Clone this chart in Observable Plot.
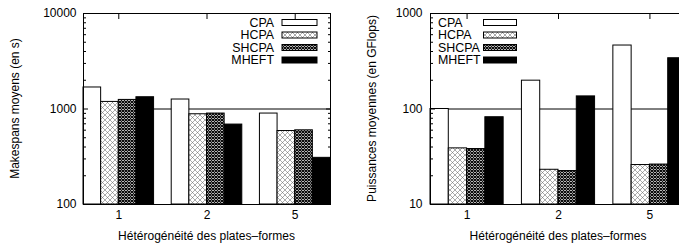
<!DOCTYPE html>
<html><head><meta charset="utf-8">
<script src="https://cdn.jsdelivr.net/npm/d3@7"></script>
<script src="https://cdn.jsdelivr.net/npm/@observablehq/plot@0.6"></script>
<style>
html,body{margin:0;padding:0;background:#fff;overflow:hidden;width:679px;height:249px;}
#left{position:absolute;left:0;top:0;width:340px;height:249px;}
#right{position:absolute;left:340px;top:0;width:339px;height:249px;overflow:hidden;}
#left svg,#right svg{max-width:none !important;display:block;}
</style></head><body>
<svg width="0" height="0" style="position:absolute">
<defs>
<pattern id="pHCPA" width="5" height="5" patternUnits="userSpaceOnUse">
 <rect width="5" height="5" fill="#fff"/>
 <path d="M0,0L5,5M5,0L0,5" stroke="#666" stroke-width="0.55"/>
</pattern>
<pattern id="pSHCPA" width="3" height="3" patternUnits="userSpaceOnUse">
 <rect width="3" height="3" fill="#fff"/>
 <path d="M0,0L3,3M3,0L0,3" stroke="#000" stroke-width="1.1"/>
</pattern>
</defs></svg>
<div id="left"></div><div id="right"></div>
<script>
const groups = ["1", "2", "5"];
const series = ["CPA", "HCPA", "SHCPA", "MHEFT"];

// Makespans moyens (en s)
const makespanCPA   = [1680, 1257, 896];
const makespanHCPA  = [1186, 881, 588];
const makespanSHCPA = [1245, 896, 598];
const makespanMHEFT = [1328, 687, 308];

// Puissances moyennes (en GFlops)
const powerCPA   = [100, 198, 462];
const powerHCPA  = [38.7, 23.1, 25.9];
const powerSHCPA = [38.1, 22.4, 26.2];
const powerMHEFT = [82, 135.5, 340];

const leftTicks = [100, 1000, 10000];
const rightTicks = [10, 100, 1000];

const xLabel = "Hétérogénéité des plates–formes";
const fills = {CPA: "white", HCPA: "url(#pHCPA)", SHCPA: "url(#pSHCPA)", MHEFT: "black"};

function makePanel(o) {
  const domain = [o.majors[0], o.majors[o.majors.length - 1]];
  const minors = [];
  for (let d = domain[0]; d < domain[1]; d *= 10) for (let k = 2; k <= 9; k++) minors.push(d * k);
  const top = 13, bottom = 204;
  const barMarks = series.map((s, j) => Plot.rect(o.values[s].map((v, i) => ({i, v})), {
    x1: d => d.i - 0.4 + 0.2 * j,
    x2: d => d.i - 0.2 + 0.2 * j,
    y1: () => domain[0],
    y2: d => d.v,
    fill: fills[s],
    stroke: "black",
    strokeWidth: 1
  }));
  const blank = () => "";
  const chart = Plot.plot({
    width: o.width, height: 249,
    marginLeft: o.marginLeft, marginRight: o.marginRight, marginTop: top, marginBottom: 249 - bottom,
    style: {fontSize: "12px", fontFamily: "'Liberation Sans', Arial, sans-serif", background: "white", color: "black"},
    x: {type: "linear", domain: [-0.4, 2.4]},
    y: {type: "log", domain},
    marks: [
      Plot.ruleY([o.ref], {stroke: "black", strokeWidth: 1}),
      ...barMarks,
      Plot.axisY(o.majors, {anchor: "left", tickSize: 0, tickPadding: o.tickPad, tickFormat: d => String(d), label: null}),
      Plot.axisY(o.majors, {anchor: "left", tickSize: 5, dx: 5, tickFormat: blank, label: null}),
      Plot.axisY(o.majors, {anchor: "right", tickSize: 5, dx: -5, tickFormat: blank, label: null}),
      Plot.axisY(minors, {anchor: "left", tickSize: 3, dx: 3, tickFormat: blank, label: null}),
      Plot.axisY(minors, {anchor: "right", tickSize: 3, dx: -3, tickFormat: blank, label: null}),
      Plot.axisX([0, 1, 2], {anchor: "bottom", tickSize: 0, tickPadding: 6, tickFormat: i => groups[i], label: null}),
      Plot.axisX([0, 1, 2], {anchor: "bottom", tickSize: 5, dy: -5, tickFormat: blank, label: null}),
      Plot.axisX([0, 1, 2], {anchor: "top", tickSize: 5, dy: 5, tickFormat: blank, label: null}),
      Plot.frame({stroke: "black", strokeWidth: 1})
    ]
  });
  const svg = d3.select(chart);
  svg.append("text")
    .attr("transform", `translate(${o.yLabelX},${(top + bottom) / 2}) rotate(-90)`)
    .attr("text-anchor", "middle").attr("dy", "0.35em").attr("fill", "black")
    .text(o.yLabel);
  const plotRight = o.width - o.marginRight;
  svg.append("text")
    .attr("x", (o.marginLeft + plotRight) / 2).attr("y", 240)
    .attr("text-anchor", "middle").attr("fill", "black")
    .text(xLabel);
  const baselines = [26.5, 39, 51.5, 64];
  const lg = svg.append("g").attr("font-size", "12.4px");
  series.forEach((s, j) => {
    lg.append("text").attr("x", o.legendTextX).attr("y", baselines[j])
      .attr("text-anchor", o.legendAnchor).attr("fill", "black").text(s);
    lg.append("rect").attr("x", o.swatchX).attr("y", baselines[j] - 7)
      .attr("width", o.swatchW).attr("height", 6)
      .attr("fill", fills[s]).attr("stroke", "black").attr("stroke-width", 1);
  });
  document.getElementById(o.el).appendChild(chart);
}

makePanel({
  el: "left", width: 340, marginLeft: 83, marginRight: 10,
  majors: leftTicks, ref: 1000, tickPad: 7,
  values: {CPA: makespanCPA, HCPA: makespanHCPA, SHCPA: makespanSHCPA, MHEFT: makespanMHEFT},
  yLabel: "Makespans moyens (en s)", yLabelX: 15,
  legendTextX: 274, legendAnchor: "end", swatchX: 282, swatchW: 35
});
makePanel({
  el: "right", width: 356, marginLeft: 90, marginRight: 10,
  majors: rightTicks, ref: 100, tickPad: 8,
  values: {CPA: powerCPA, HCPA: powerHCPA, SHCPA: powerSHCPA, MHEFT: powerMHEFT},
  yLabel: "Puissances moyennes (en GFlops)", yLabelX: 32,
  legendTextX: 98, legendAnchor: "start", swatchX: 143.5, swatchW: 33
});
</script>
</body></html>
